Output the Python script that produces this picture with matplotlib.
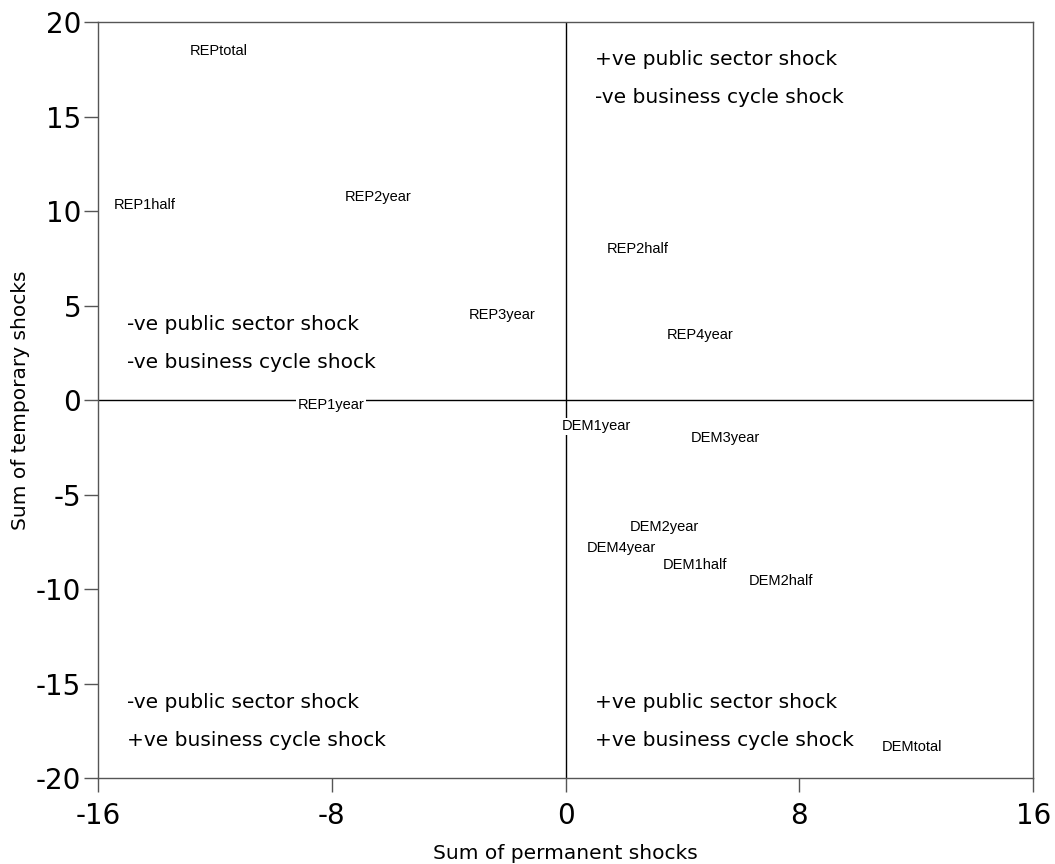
import matplotlib
matplotlib.use("Agg")
import matplotlib.pyplot as plt

labels = ["REPtotal", "REP1half", "REP2year", "REP2half", "REP3year", "REP4year",
          "REP1year", "DEM1year", "DEM3year", "DEM2year", "DEM4year", "DEM1half",
          "DEM2half", "DEMtotal"]
perm = [-11.86, -14.39, -6.42, 2.48, -2.17, 4.60, -8.03, 1.04, 5.46, 3.37, 1.90, 4.43, 7.37, 11.86]
temp = [18.47, 10.32, 10.74, 7.99, 4.50, 3.44, -0.26, -1.38, -2.01, -6.72, -7.83, -8.73, -9.58, -18.36]

quad_x = [1, -15, -15, 1]
quad_y = [18, 4, -16, -16]
quad_text = [["+ve public sector shock", "-ve business cycle shock"],
             ["-ve public sector shock", "-ve business cycle shock"],
             ["-ve public sector shock", "+ve business cycle shock"],
             ["+ve public sector shock", "+ve business cycle shock"]]

xticks = [-16, -8, 0, 8, 16]
yticks = [-20, -15, -10, -5, 0, 5, 10, 15, 20]

plt.rcParams['font.family'] = ['DejaVu Sans']

fig = plt.figure(figsize=(10.55, 8.64), dpi=100)
ax = fig.add_axes([0.0929, 0.0995, 0.8864, 0.875])

ax.axhline(0, color='black', lw=1, zorder=1)
ax.axvline(0, color='black', lw=1, zorder=1)

for lab, x, y in zip(labels, perm, temp):
    ax.text(x, y, lab, ha='center', va='center', fontsize=10.5,
            family='Liberation Sans',
            bbox=dict(facecolor='white', edgecolor='none', pad=1), zorder=3)

for qx, qy, lines in zip(quad_x, quad_y, quad_text):
    for i, t in enumerate(lines):
        ax.text(qx, qy - 2 * i, t, ha='left', va='center', fontsize=14.5, zorder=3)

ax.set_xlim(-16, 16)
ax.set_ylim(-20, 20)
ax.set_xticks(xticks, [str(v) for v in xticks])
ax.set_yticks(yticks, [str(v) for v in yticks])
ax.tick_params(labelsize=20, length=10, width=1, color='#555555', direction='out')
ax.tick_params(axis='y', pad=2)
ax.tick_params(axis='x', pad=7)
for s in ax.spines.values():
    s.set_color('#555555')
    s.set_linewidth(1)

ax.set_xlabel("Sum of permanent shocks", fontsize=14.5, labelpad=10)
ax.set_ylabel("Sum of temporary shocks", fontsize=14.5, labelpad=4)

fig.savefig("out.png", dpi=100)
